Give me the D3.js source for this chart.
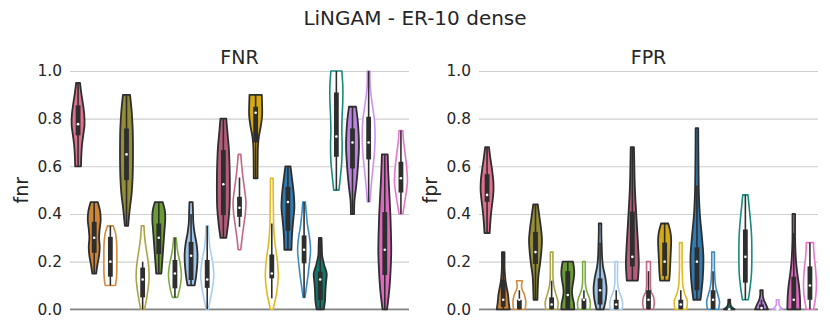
<!DOCTYPE html>
<html>
<head>
<meta charset="utf-8">
<script src="https://cdn.jsdelivr.net/npm/d3@7"></script>
<style>
	body { margin: 0; background: #fff; }
	svg { display: block; }
	text { font-family: 'DejaVu Sans', sans-serif; fill: #262626; }
</style>
</head>
<body>
<svg id="chart" width="830" height="332"></svg>
<script>
'use strict';

////////// DATA //////////
const slots = d3.range(21);  // one violin per slot, colour pairs: filled then outline
const yTicks = [0, 0.2, 0.4, 0.6, 0.8, 1.0];

// [min, max] of each violin
const fnrRange = [[0.6, 0.95], [0.15, 0.45], [0.1, 0.35], [0.35, 0.9], [0, 0.35], [0.15, 0.45], [0.05, 0.3],
	[0.1, 0.45], [0, 0.35], [0.3, 0.8], [0.25, 0.65], [0.55, 0.9], [0, 0.55], [0.25, 0.6], [0.05, 0.45],
	[0, 0.3], [0.5, 1.0], [0.4, 0.85], [0.45, 1.0], [0, 0.65], [0.4, 0.75]];
// [q1, median, q3]
const fnrBox = [[0.73, 0.777, 0.856], [0.237, 0.3, 0.367], [0.137, 0.2, 0.304], [0.542, 0.65, 0.759], [0.05, 0.125, 0.175],
	[0.232, 0.3, 0.36], [0.088, 0.15, 0.207], [0.123, 0.225, 0.283], [0.09, 0.125, 0.207], [0.395, 0.525, 0.668],
	[0.388, 0.426, 0.472], [0.7, 0.825, 0.85], [0.13, 0.15, 0.23], [0.33, 0.45, 0.514], [0.193, 0.25, 0.31],
	[0.039, 0.125, 0.158], [0.64, 0.725, 0.91], [0.591, 0.7, 0.759], [0.629, 0.7, 0.808], [0.144, 0.25, 0.408],
	[0.49, 0.55, 0.619]];
// [low, high] whisker ends
const fnrWhisker = [[0.6, 0.95], [0.15, 0.45], [0.1, 0.35], [0.35, 0.9], [0, 0.2], [0.15, 0.45], [0.05, 0.3],
	[0.1, 0.4], [0, 0.35], [0.3, 0.8], [0.346, 0.553], [0.55, 0.9], [0.046, 0.36], [0.25, 0.6], [0.05, 0.45],
	[0, 0.3], [0.5, 1.0], [0.4, 0.85], [0.45, 1.0], [0, 0.65], [0.4, 0.75]];
// relative density, bottom (min) to top (max), evenly spaced
const fnrShape = [
	[0.45, 0.5, 0.6, 0.8, 1.0, 0.95, 0.75, 0.5, 0.3],
	[0.3, 0.5, 0.75, 0.85, 0.75, 0.85, 1.0, 0.9, 0.55],
	[0.8, 0.95, 1.0, 1.0, 1.0, 1.0, 0.95, 0.8, 0.45],
	[0.25, 0.5, 0.8, 0.95, 1.0, 1.0, 0.95, 0.8, 0.55],
	[0.3, 0.6, 0.85, 1.0, 0.95, 0.75, 0.5, 0.3, 0.2],
	[0.4, 0.5, 0.6, 0.7, 0.8, 0.9, 1.0, 0.95, 0.6],
	[0.4, 0.7, 0.9, 1.0, 0.9, 0.7, 0.45, 0.3, 0.2],
	[0.55, 0.8, 0.95, 1.0, 0.85, 0.55, 0.35, 0.3, 0.25],
	[0.15, 0.5, 0.8, 1.0, 0.95, 0.7, 0.4, 0.25, 0.2],
	[0.45, 0.75, 0.95, 1.0, 1.0, 0.95, 0.85, 0.65, 0.45],
	[0.2, 0.4, 0.65, 0.9, 1.0, 0.8, 0.55, 0.35, 0.2],
	[0.3, 0.3, 0.32, 0.35, 0.5, 0.8, 1.0, 1.0, 0.95],
	[0.2, 0.75, 1.0, 0.85, 0.5, 0.3, 0.25, 0.22, 0.2],
	[0.55, 0.6, 0.7, 0.85, 1.0, 0.95, 0.8, 0.6, 0.4],
	[0.15, 0.4, 0.65, 0.85, 1.0, 0.85, 0.55, 0.35, 0.2],
	[0.55, 0.75, 0.8, 0.9, 1.0, 0.6, 0.3, 0.25, 0.2],
	[0.4, 0.65, 0.85, 0.9, 0.85, 0.9, 1.0, 1.0, 0.85],
	[0.25, 0.3, 0.55, 0.75, 0.9, 1.0, 0.95, 0.8, 0.55],
	[0.2, 0.4, 0.65, 0.9, 1.0, 0.9, 0.55, 0.25, 0.2],
	[0.35, 0.7, 0.9, 1.0, 0.95, 0.85, 0.7, 0.55, 0.45],
	[0.3, 0.55, 0.8, 1.0, 0.95, 0.8, 0.6, 0.4, 0.3]
];

const fprRange = [[0.32, 0.68], [0, 0.24], [0, 0.12], [0.04, 0.44], [0, 0.24], [0, 0.2], [0, 0.2],
	[0, 0.36], [0, 0.2], [0.12, 0.68], [0, 0.2], [0.12, 0.36], [0, 0.28], [0.04, 0.76], [0, 0.24],
	[0, 0.04], [0.04, 0.48], [0, 0.08], [0, 0.04], [0, 0.4], [0, 0.28]];
const fprBox = [[0.451, 0.48, 0.567], [0.01, 0.04, 0.125], [0, 0.04, 0.04], [0.19, 0.24, 0.325], [0, 0.02, 0.05],
	[0, 0.06, 0.16], [0, 0.04, 0.045], [0.02, 0.08, 0.13], [0, 0.02, 0.04], [0.18, 0.22, 0.41],
	[0, 0.04, 0.08], [0.14, 0.2, 0.28], [0, 0.02, 0.04], [0.08, 0.2, 0.26], [0, 0.04, 0.08],
	[0, 0, 0], [0.112, 0.22, 0.335], [0, 0.005, 0.02], [0, 0, 0], [0, 0.04, 0.137], [0.04, 0.1, 0.18]];
const fprWhisker = [[0.32, 0.68], [0, 0.24], [0, 0.08], [0.04, 0.44], [0, 0.12], [0, 0.2], [0, 0.08],
	[0, 0.28], [0, 0.08], [0.12, 0.68], [0, 0.16], [0.12, 0.36], [0, 0.08], [0.04, 0.52], [0, 0.16],
	[0, 0], [0.04, 0.48], [0, 0.04], [0, 0], [0, 0.32], [0, 0.28]];
const fprShape = [
	[0.4, 0.5, 0.65, 0.85, 1.0, 0.95, 0.75, 0.5, 0.3],
	[1.0, 0.85, 0.75, 0.55, 0.35, 0.25, 0.2, 0.2, 0.2],
	[0.9, 1.0, 0.8, 0.35, 0.45],
	[0.3, 0.35, 0.45, 0.7, 0.9, 1.0, 0.85, 0.6, 0.35],
	[0.9, 1.0, 0.7, 0.4, 0.25, 0.2, 0.2, 0.2, 0.2],
	[1.0, 0.95, 0.75, 0.65, 0.75, 0.9, 1.0, 0.95, 0.8],
	[0.9, 1.0, 0.8, 0.45, 0.25, 0.2, 0.2, 0.2, 0.2],
	[0.55, 0.9, 1.0, 0.8, 0.45, 0.3, 0.25, 0.2, 0.2],
	[0.9, 1.0, 0.8, 0.45, 0.25, 0.2, 0.2, 0.2, 0.2],
	[0.85, 1.0, 0.9, 0.75, 0.6, 0.45, 0.35, 0.3, 0.25],
	[0.75, 0.9, 0.8, 0.4, 0.3, 0.3, 0.3, 0.3, 0.3],
	[0.7, 0.8, 0.85, 0.9, 0.95, 1.0, 1.0, 0.85, 0.55],
	[0.9, 1.0, 0.55, 0.3, 0.25, 0.2, 0.2, 0.2, 0.2],
	[0.55, 0.9, 1.0, 0.75, 0.45, 0.3, 0.25, 0.22, 0.2],
	[0.85, 1.0, 0.75, 0.45, 0.3, 0.25, 0.2, 0.2, 0.2],
	[0.85, 0.35, 0.2, 0.15, 0.15],
	[0.45, 0.75, 0.95, 1.0, 1.0, 0.95, 0.8, 0.6, 0.4],
	[1.0, 0.7, 0.35, 0.2, 0.2],
	[0.85, 0.4, 0.2, 0.2, 0.2],
	[1.0, 0.95, 0.8, 0.55, 0.35, 0.25, 0.2, 0.2, 0.2],
	[0.55, 0.8, 0.95, 1.0, 0.95, 0.85, 0.7, 0.6, 0.55]
];

////////// STYLE //////////
// base colours per slot (filled violins use the first, outlines the second of a pair)
const slotColors = ['#e0718e', '#cf8532', '#d38a3c', '#958e35', '#aba447', '#6a9c34', '#7aac40',
	'#9dc3e8', '#a9cdee', '#b65b7c', '#c46686', '#d4a914', '#e1b924', '#2f7bb3', '#3a8bc4',
	'#11796a', '#188a7c', '#bd83e0', '#cd94ef', '#dd68bf', '#e877ca'];
const isFilled = i => i === 0 || i % 2 === 1;
const darkGray = '#2e2e2e';

const W = 830, H = 332;
const panelTop = 71, panelBottom = 309.3;
const panels = [
	{ title: 'FNR', ylabel: 'fnr', left: 70, right: 409, range: fnrRange, box: fnrBox, whisker: fnrWhisker, shape: fnrShape },
	{ title: 'FPR', ylabel: 'fpr', left: 479, right: 818, range: fprRange, box: fprBox, whisker: fprWhisker, shape: fprShape }
];

const svg = d3.select('#chart');

svg.append('text')
	.attr('x', W / 2).attr('y', 25)
	.attr('text-anchor', 'middle')
	.style('font-size', '20px')
	.text('LiNGAM - ER-10 dense');

const y = d3.scaleLinear().domain([0, 1]).range([panelBottom, panelTop]);

panels.forEach(p => {
	const g = svg.append('g');
	const x = d3.scaleBand().domain(slots).range([p.left, p.right]);
	const halfW = x.bandwidth() * 0.4;

	// grid
	g.append('g')
		.attr('transform', `translate(${p.left},0)`)
		.call(d3.axisLeft(y).tickValues(yTicks).tickSize(-(p.right - p.left)).tickFormat(''))
		.call(a => a.select('.domain').remove())
		.call(a => a.selectAll('line').attr('stroke', '#d0d0d0').attr('stroke-width', 1.1));

	// tick labels
	g.append('g')
		.attr('transform', `translate(${p.left},0)`)
		.call(d3.axisLeft(y).tickValues(yTicks).tickSize(0).tickPadding(8).tickFormat(d3.format('.1f')))
		.call(a => a.select('.domain').remove())
		.call(a => a.selectAll('text').style('font-size', '15.4px').attr('fill', '#262626').style('font-family', "'DejaVu Sans', sans-serif"));

	// bottom spine
	g.append('line')
		.attr('x1', p.left).attr('x2', p.right)
		.attr('y1', y(0)).attr('y2', y(0))
		.attr('stroke', '#858585').attr('stroke-width', 1.8);

	// titles
	g.append('text')
		.attr('x', (p.left + p.right) / 2).attr('y', 64)
		.attr('text-anchor', 'middle')
		.style('font-size', '19px')
		.text(p.title);
	g.append('text')
		.attr('transform', `translate(${p.left - 42},${(panelTop + panelBottom) / 2}) rotate(-90)`)
		.attr('text-anchor', 'middle')
		.style('font-size', '19px')
		.text(p.ylabel);

	// violins
	const violins = g.append('g').selectAll('g.violin')
		.data(slots)
		.join('g')
		.attr('class', 'violin');

	violins.append('path')
		.attr('d', i => {
			const [lo, hi] = p.range[i];
			const s = p.shape[i];
			const cx = x(i) + x.bandwidth() / 2;
			const pts = s.map((w, k) => ({ v: lo + (hi - lo) * k / (s.length - 1), w: w }));
			return d3.area()
				.curve(d3.curveCatmullRom.alpha(0.5))
				.y(d => y(d.v))
				.x0(d => cx - halfW * d.w)
				.x1(d => cx + halfW * d.w)(pts);
		})
		.attr('fill', i => isFilled(i) ? slotColors[i] : '#fff')
		.attr('stroke', i => isFilled(i) ? darkGray : slotColors[i])
		.attr('stroke-width', i => isFilled(i) ? 1.8 : 1.6)
		.attr('stroke-linejoin', 'round');

	// inner box
	violins.append('line')
		.attr('x1', i => x(i) + x.bandwidth() / 2).attr('x2', i => x(i) + x.bandwidth() / 2)
		.attr('y1', i => y(p.whisker[i][0])).attr('y2', i => y(p.whisker[i][1]))
		.attr('stroke', darkGray).attr('stroke-width', 1.6);
	violins.append('rect')
		.attr('x', i => x(i) + x.bandwidth() / 2 - 2.4)
		.attr('width', 4.8)
		.attr('y', i => y(p.box[i][2]))
		.attr('height', i => y(p.box[i][0]) - y(p.box[i][2]))
		.attr('fill', darkGray);
	violins.append('circle')
		.attr('cx', i => x(i) + x.bandwidth() / 2)
		.attr('cy', i => y(p.box[i][1]))
		.attr('r', 1.3)
		.attr('fill', '#fff');
});
</script>
</body>
</html>
